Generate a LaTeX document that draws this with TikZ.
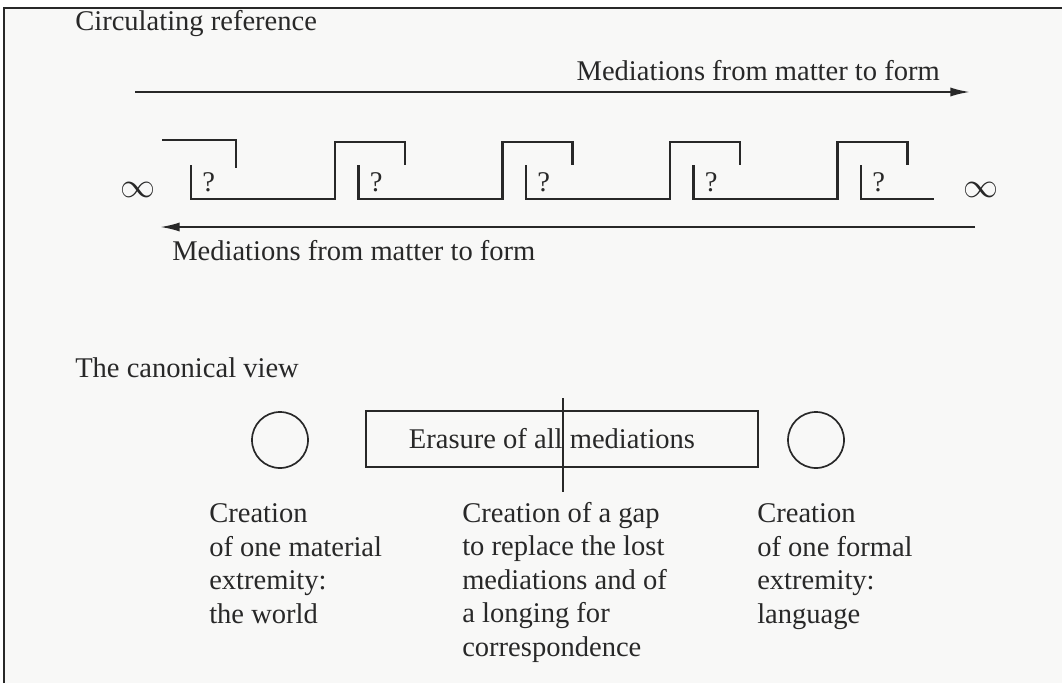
\documentclass[tikz,border=0pt]{standalone}
\usepackage{fontspec}
\setmainfont{Liberation Serif}
\usetikzlibrary{arrows.meta,positioning}
\definecolor{inkcolor}{RGB}{40,40,40}
\definecolor{papercolor}{RGB}{248,248,247}

\begin{document}
\begin{tikzpicture}[
    x=0.025cm, y=-0.025cm,
    every node/.style={inner sep=0pt, text=inkcolor, font=\fontsize{20.3}{23.8}\selectfont},
    title/.style={anchor=base west},
    caption/.style={anchor=base west, align=left},
    flow/.style={-{Latex[length=14pt,width=6.5pt]}, line width=1.5pt, draw=inkcolor},
    mediation/.style={line width=1.8pt, draw=inkcolor, line cap=butt},
    pole/.style={circle, draw=inkcolor, line width=1.2pt, minimum size=1.4cm},
    erasebox/.style={rectangle, draw=inkcolor, line width=1.1pt, minimum width=9.8cm, minimum height=1.4cm}
]
\useasboundingbox (0,0) rectangle (1062,683);

% Frame
\fill[papercolor] (4,8) rectangle (1062,683);
\draw[inkcolor, line width=1.5pt] (4,683) -- (4,8) -- (1062,8);

% Circulating reference
\node[title] (circref) at (75,31) {Circulating reference};

\coordinate (fwdstart) at (135,92);
\coordinate (fwdend) at (970,92);
\draw[flow] (fwdstart) -- (fwdend);
\node[anchor=base east] (fwdlabel) at (940,80) {Mediations from matter to form};

% Chain of mediations
\node (leftinf) at (138,190) {\fontsize{26}{26}\selectfont$\infty$};
\draw[mediation] (162,140) -- (236,140) -- (236,168);
\foreach \i/\x in {1/191,2/358.5,3/526,4/693.5}{
  \draw[mediation] (\x,165) -- (\x,199) -- (\x+144,199) -- (\x+144,142) -- (\x+214,142) -- (\x+214,165);
  \node[anchor=base west] (ask\i) at (\x+11,191) {?};
}
\draw[mediation] (861,165) -- (861,199) -- (934,199);
\node[anchor=base west] (ask5) at (872,191) {?};
\node (rightinf) at (981,190) {\fontsize{26}{26}\selectfont$\infty$};

\coordinate (backstart) at (975,227);
\coordinate (backend) at (160,227);
\draw[flow] (backstart) -- (backend);
\node[title] (backlabel) at (172,260) {Mediations from matter to form};

% The canonical view
\node[title] (canon) at (75,377) {The canonical view};

\node[pole] (worldpole) at (280,440) {};
\node[erasebox] (erasure) at (562,439) {\hspace*{-0.5cm}Erasure of all mediations};
\draw[inkcolor, line width=1.1pt] (563,398) -- (563,492);
\node[pole] (langpole) at (816,440) {};

% Captions (base is the last line)
\node[caption] (worldtxt) at (209,623) {Creation\\of one material\\extremity:\\the world};
\node[caption] (gaptxt) at (462,656) {Creation of a gap\\to replace the lost\\mediations and of\\a longing for\\correspondence};
\node[caption] (langtxt) at (757,623) {Creation\\of one formal\\extremity:\\language};

\end{tikzpicture}
\end{document}
